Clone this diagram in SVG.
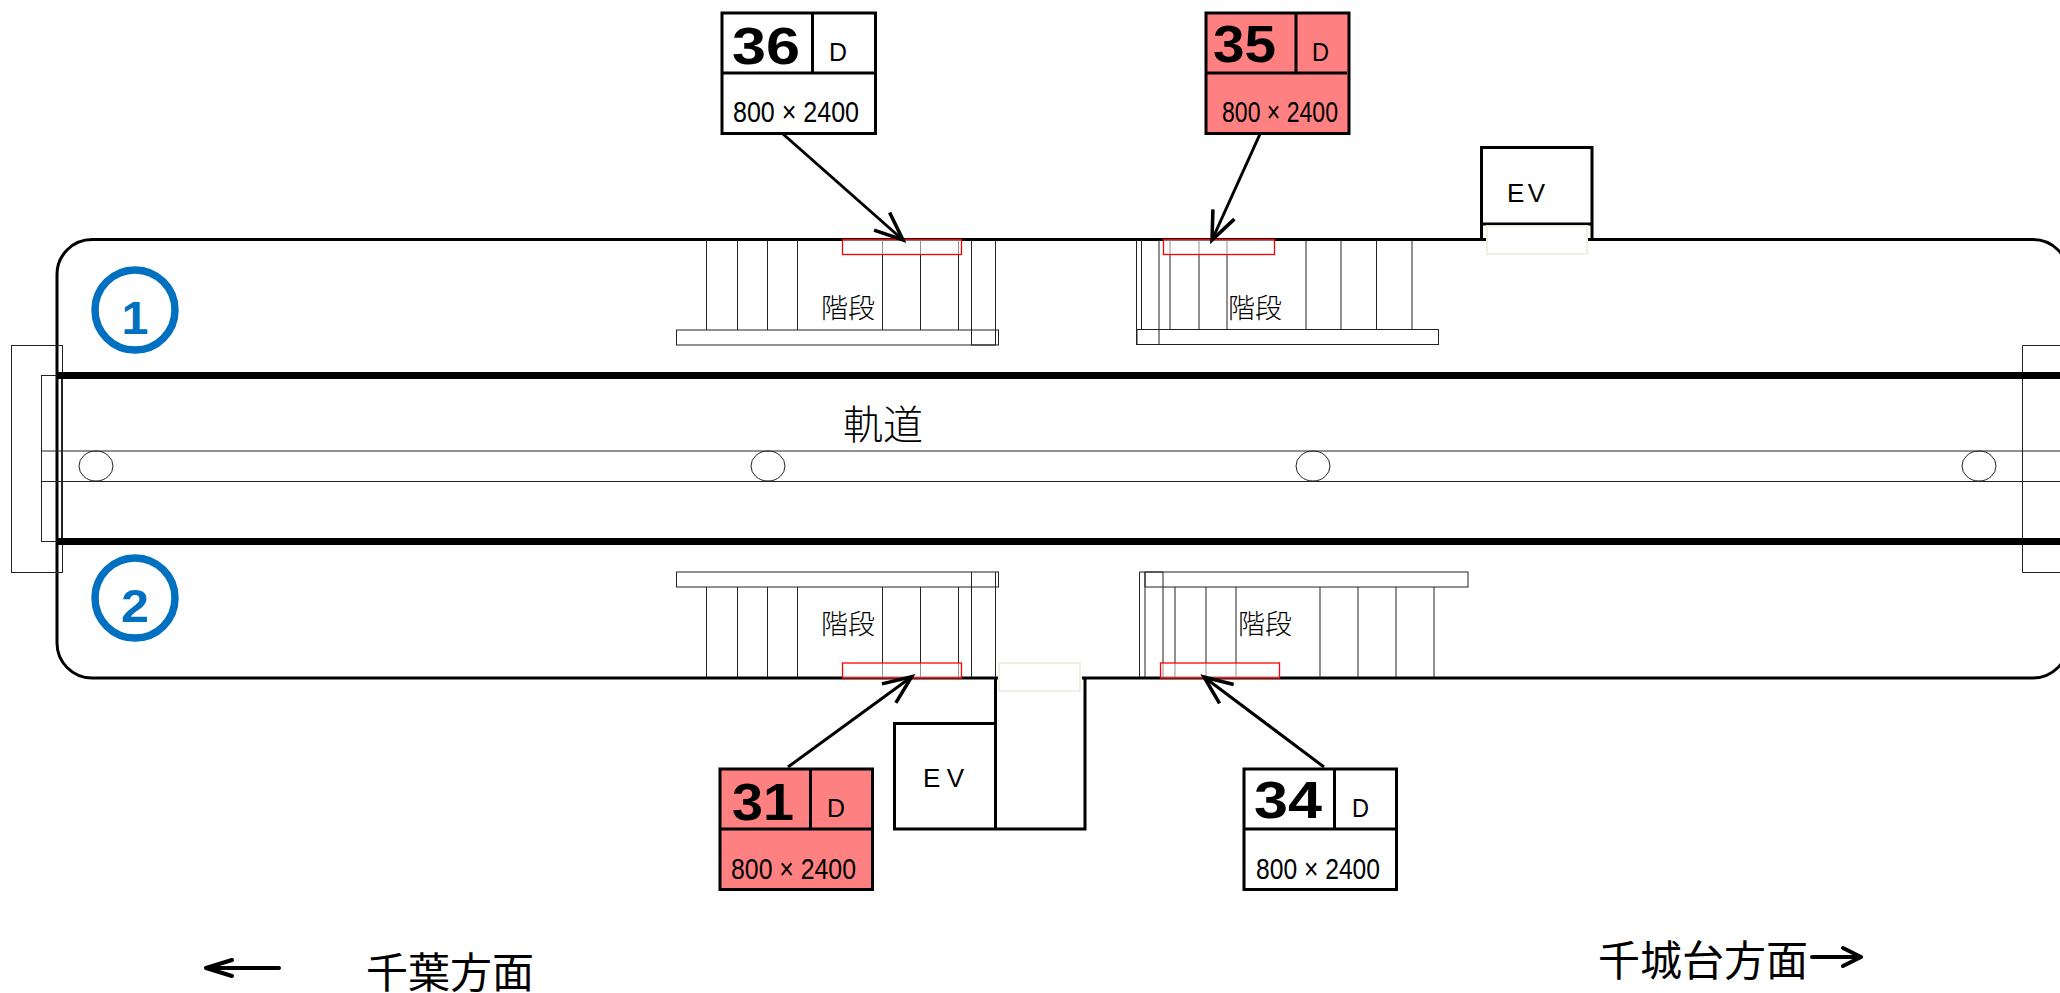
<svg xmlns="http://www.w3.org/2000/svg" width="2060" height="993" viewBox="0 0 2060 993">
<style>
text{fill:#000}
.jp{font-family:"Noto Sans CJK JP","Noto Sans",sans-serif}
.st{font-size:27px;font-weight:300}
.dir{font-size:42px}
.lat{font-family:"Liberation Sans",Arial,sans-serif}
.num{font-size:52px;font-weight:700;font-family:"Liberation Sans",Arial,sans-serif;stroke:none}
.d{font-size:25px;font-family:"Liberation Sans",Arial,sans-serif}
.sz{font-size:30px;font-family:"Liberation Sans",Arial,sans-serif}
.ev{font-size:26px;font-family:"Liberation Sans",Arial,sans-serif}
.cn{font-size:46px;font-weight:700;font-family:"Liberation Sans",Arial,sans-serif;fill:#0070c0}
.thin{fill:none;stroke:#222;stroke-width:1}
.wall{fill:none;stroke:#000;stroke-width:3}
.rail{stroke:#000;stroke-width:7}
.red{fill:#fff;fill-opacity:.5;stroke:#f00;stroke-width:1.3}
.pale{fill:#fff;stroke:#f0efe6;stroke-width:2}
.bw{fill:#fff;stroke:#000;stroke-width:3}
.bp{fill:#ff8080;stroke:#000;stroke-width:3}
.ln{stroke:#000;stroke-width:3;fill:none}
.conn{stroke:#000;stroke-width:3;fill:none;marker-end:url(#a)}
.dirl{stroke:#000;stroke-width:4;fill:none;stroke-linecap:round;stroke-linejoin:round}
.ring{fill:none;stroke:#0070c0;stroke-width:7.5}
</style>
<defs>
<marker id="a" markerUnits="userSpaceOnUse" markerWidth="40" markerHeight="40" viewBox="-30 -15 34 30" refX="0" refY="0" orient="auto"><path d="M-24,-10L0,0L-24,10" fill="none" stroke="#000" stroke-width="3"/></marker>
</defs>

<g id="platform">
<path class="wall" d="M998,678H92A35,35 0 0 1 57,643V274.500A35,35 0 0 1 92,239.500H1486M1588,239.500H2033A35,35 0 0 1 2068,274.500V643A35,35 0 0 1 2033,678H1082"/>
<rect class="thin" x="11.500" y="345.500" width="51" height="227"/>
<rect class="thin" x="41.500" y="375.500" width="20" height="166"/>
<path class="thin" d="M41.500,451H2060M41.500,481.500H2060M41.500,451V481.500"/>
<path class="thin" d="M2060,345.500H2022.500V572.500H2060"/>
<line class="rail" x1="57" y1="375.500" x2="2060" y2="375.500"/>
<line class="rail" x1="57" y1="541.500" x2="2060" y2="541.500"/>
<ellipse class="thin" cx="96" cy="466" rx="17" ry="15"/>
<ellipse class="thin" cx="768" cy="466" rx="17" ry="15"/>
<ellipse class="thin" cx="1313" cy="466" rx="17" ry="15"/>
<ellipse class="thin" cx="1979" cy="466" rx="17" ry="15"/>
<text class="jp" x="843" y="439" font-size="40" font-weight="300">軌道</text>
</g>

<g id="track-1"><circle class="ring" cx="135" cy="310" r="40"/><text class="cn" x="135" y="334" text-anchor="middle" textLength="27" lengthAdjust="spacingAndGlyphs">1</text></g>
<g id="track-2"><circle class="ring" cx="135" cy="598" r="40"/><text class="cn" x="135" y="622" text-anchor="middle" textLength="28" lengthAdjust="spacingAndGlyphs">2</text></g>

<g id="stairs-top-left">
<path class="thin" d="M706.500,240V330M737.500,240V330M767.500,240V330M797.500,240V330M882.500,240V330M920.500,240V330M958.500,240V330M971.500,240V345M995.500,240V345"/>
<rect class="thin" x="676.500" y="330" width="322" height="15"/>
<path class="thin" d="M971.500,345H995.500"/>
<text class="jp st" x="821" y="318">階段</text>
</g>
<g id="stairs-top-right">
<path class="thin" d="M1136.500,240V345M1141.500,240V330M1159,240V345M1170,240V330M1199,240V330M1227,240V330M1306,240V330M1341,240V330M1376.500,240V330M1412,240V330"/>
<rect class="thin" x="1137" y="329.500" width="301.500" height="15"/>
<text class="jp st" x="1228" y="318">階段</text>
</g>
<g id="stairs-bottom-left">
<path class="thin" d="M706.500,587V677M737.500,587V677M767.500,587V677M797.500,587V677M882.500,587V677M920.500,587V677M958.500,587V677M971.500,572V677M995.500,572V677"/>
<rect class="thin" x="676.500" y="572" width="322" height="15"/>
<text class="jp st" x="821" y="634">階段</text>
</g>
<g id="stairs-bottom-right">
<path class="thin" d="M1139.500,572V677M1145,572V677M1163,572V677M1175,587V677M1206,587V677M1236,587V677M1320,587V677M1358,587V677M1396,587V677M1434,587V677M1139.500,572H1163"/>
<rect class="thin" x="1145" y="572" width="323" height="15"/>
<text class="jp st" x="1238" y="634">階段</text>
</g>

<g id="door-marks">
<rect class="red" x="842.500" y="239.500" width="119" height="15"/>
<rect class="red" x="1163.500" y="239.500" width="111" height="15"/>
<rect class="red" x="842.500" y="663" width="119" height="15"/>
<rect class="red" x="1160.500" y="663" width="119" height="15"/>
</g>

<g id="ev-top">
<path class="ln" d="M1481.500,240V147.500H1592V240M1481.500,224H1592"/>
<rect class="pale" x="1487" y="226" width="100" height="28"/>
<text class="ev" x="1507" y="202" textLength="38" lengthAdjust="spacing">EV</text>
</g>
<g id="ev-bottom">
<rect class="pale" x="999" y="663" width="81" height="28"/>
<path class="ln" d="M995.500,678V829M1085,678V829H894.500V723.500H995.500"/>
<text class="ev" x="923" y="787" textLength="41" lengthAdjust="spacing">EV</text>
</g>

<g id="connectors">
<line class="conn" x1="783" y1="134" x2="903" y2="240"/>
<line class="conn" x1="1260" y1="134" x2="1212" y2="240"/>
<line class="conn" x1="788" y1="767" x2="911.700" y2="676.700"/>
<line class="conn" x1="1324" y1="767" x2="1204" y2="677"/>
</g>

<g id="door-36">
<rect class="bw" x="722" y="13" width="153.500" height="120.500"/>
<path class="ln" d="M722,73H875.500M812.500,13V73"/>
<text class="num" x="732" y="64" textLength="68" lengthAdjust="spacingAndGlyphs">36</text>
<text class="d" x="829" y="61" textLength="18" lengthAdjust="spacingAndGlyphs">D</text>
<text class="sz" x="733" y="122" textLength="126" lengthAdjust="spacingAndGlyphs">800 × 2400</text>
</g>
<g id="door-35">
<rect class="bp" x="1206" y="13" width="143" height="120.500"/>
<path class="ln" d="M1205,73H1347M1296,13V73"/>
<text class="num" x="1213" y="62" textLength="63" lengthAdjust="spacingAndGlyphs">35</text>
<text class="d" x="1312" y="61" textLength="17" lengthAdjust="spacingAndGlyphs">D</text>
<text class="sz" x="1222" y="122" textLength="116" lengthAdjust="spacingAndGlyphs">800 × 2400</text>
</g>
<g id="door-31">
<rect class="bp" x="720" y="769" width="152.500" height="120.500"/>
<path class="ln" d="M720,829H872.500M810.500,769V829"/>
<text class="num" x="732" y="820" textLength="62" lengthAdjust="spacingAndGlyphs">31</text>
<text class="d" x="827" y="817" textLength="18" lengthAdjust="spacingAndGlyphs">D</text>
<text class="sz" x="731" y="879" textLength="125" lengthAdjust="spacingAndGlyphs">800 × 2400</text>
</g>
<g id="door-34">
<rect class="bw" x="1244" y="769" width="152.500" height="120.500"/>
<path class="ln" d="M1244,829H1396.500M1334.500,769V829"/>
<text class="num" x="1254" y="818" textLength="68" lengthAdjust="spacingAndGlyphs">34</text>
<text class="d" x="1352" y="817" textLength="17" lengthAdjust="spacingAndGlyphs">D</text>
<text class="sz" x="1256" y="879" textLength="124" lengthAdjust="spacingAndGlyphs">800 × 2400</text>
</g>

<g id="direction-chiba">
<path class="dirl" d="M279,968H206M232,960L206,968L232,976"/>
<text class="jp dir" x="366" y="988">千葉方面</text>
</g>
<g id="direction-chishirodai">
<path class="dirl" d="M1812,957H1861M1843,948L1861,957L1843,966"/>
<text class="jp dir" x="1598" y="976">千城台方面</text>
</g>
</svg>
